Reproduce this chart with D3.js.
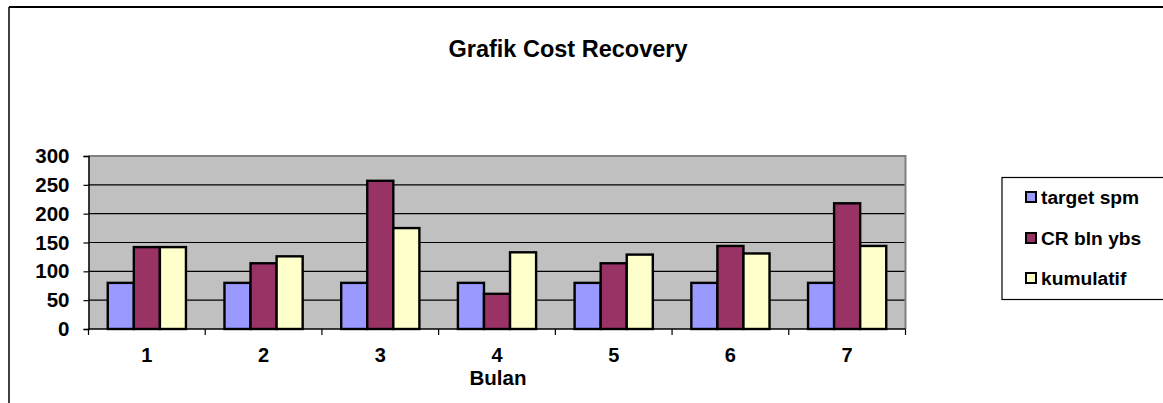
<!DOCTYPE html>
<html>
<head>
<meta charset="utf-8">
<script src="https://cdn.jsdelivr.net/npm/d3@7"></script>
<style>
  html, body { margin: 0; padding: 0; background: #fff; }
  svg { display: block; }
  text { font-family: Arial, "Liberation Sans", sans-serif; font-weight: bold; fill: #000; }
</style>
</head>
<body>
<svg id="chart" width="1163" height="403"></svg>
<script>
const categories = ["1", "2", "3", "4", "5", "6", "7"];
const seriesNames = ["target spm", "CR bln ybs", "kumulatif"];
const targetSpm = [80, 80, 80, 80, 80, 80, 80];
const crBlnYbs = [142, 114, 257, 61, 114, 144, 218];
const kumulatif = [142, 126, 175, 133, 129, 131, 144];
const yTicks = [0, 50, 100, 150, 200, 250, 300];
const colors = ["#9999FF", "#993366", "#FFFFCC"];
const titleText = "Grafik Cost Recovery";
const xTitle = "Bulan";

const seriesValues = [targetSpm, crBlnYbs, kumulatif];
const data = categories.map((c, i) => ({
  cat: c,
  vals: seriesNames.map((s, j) => ({ key: s, value: seriesValues[j][i], color: colors[j] }))
}));

const svg = d3.select("#chart");

// outer chart border (top and left visible)
svg.append("line").attr("x1", 9).attr("x2", 1163).attr("y1", 7).attr("y2", 7)
  .attr("stroke", "#000").attr("stroke-width", 2);
svg.append("line").attr("x1", 9).attr("x2", 9).attr("y1", 7).attr("y2", 403)
  .attr("stroke", "#000").attr("stroke-width", 1.5);

// title
svg.append("text").attr("x", 568).attr("y", 57).attr("text-anchor", "middle")
  .style("font-size", "23.5px").text(titleText);

const plot = { left: 88.5, right: 905.5, top: 156, bottom: 329 };

const x0 = d3.scaleBand().domain(categories).range([plot.left, plot.right]).padding(0);
const x1 = d3.scaleBand().domain(seriesNames)
  .range([x0.bandwidth() * 0.165, x0.bandwidth() * 0.835]).padding(0);
const y = d3.scaleLinear().domain([0, 300]).range([plot.bottom, plot.top]);

// plot background
svg.append("rect").attr("x", plot.left).attr("y", plot.top)
  .attr("width", plot.right - plot.left).attr("height", plot.bottom - plot.top)
  .attr("fill", "#C0C0C0");

// gridlines
svg.append("g").selectAll("line").data(yTicks.filter(t => t > 0 && t < 300)).join("line")
  .attr("x1", plot.left).attr("x2", plot.right)
  .attr("y1", d => y(d)).attr("y2", d => y(d))
  .attr("stroke", "#000").attr("stroke-width", 1.2);

// plot border top/right gray
svg.append("path")
  .attr("d", `M${plot.left},${plot.top}H${plot.right}V${plot.bottom}`)
  .attr("fill", "none").attr("stroke", "#808080").attr("stroke-width", 2);

// bars
const groups = svg.append("g").selectAll("g").data(data).join("g")
  .attr("transform", d => `translate(${x0(d.cat)},0)`);
groups.selectAll("rect").data(d => d.vals).join("rect")
  .attr("x", d => x1(d.key))
  .attr("y", d => y(d.value))
  .attr("width", x1.bandwidth())
  .attr("height", d => y(0) - y(d.value))
  .attr("fill", d => d.color)
  .attr("stroke", "#000").attr("stroke-width", 2.4);

// y axis
const yAxis = svg.append("g").attr("transform", `translate(${plot.left},0)`)
  .call(d3.axisLeft(y).tickValues(yTicks).tickSize(5).tickPadding(14));
yAxis.select(".domain").attr("stroke", "#000").attr("stroke-width", 1.5);
yAxis.selectAll(".tick line").attr("stroke", "#000").attr("stroke-width", 1.2);
yAxis.selectAll("text").style("font-size", "20.5px").style("font-family", "Arial, 'Liberation Sans', sans-serif")
  .style("font-weight", "bold").attr("fill", "#000");

// x axis with ticks at category boundaries
const xAxisG = svg.append("g").attr("transform", `translate(0,${plot.bottom})`);
xAxisG.append("line").attr("x1", plot.left).attr("x2", plot.right)
  .attr("stroke", "#000").attr("stroke-width", 1.5);
const boundaries = categories.map(c => x0(c)).concat([x0(categories[categories.length - 1]) + x0.bandwidth()]);
xAxisG.selectAll("line.tk").data(boundaries).join("line").attr("class", "tk")
  .attr("x1", d => d).attr("x2", d => d).attr("y1", 0).attr("y2", 6)
  .attr("stroke", "#000").attr("stroke-width", 1.2);
xAxisG.selectAll("text").data(categories).join("text")
  .attr("x", d => x0(d) + x0.bandwidth() / 2).attr("y", 33)
  .attr("text-anchor", "middle").style("font-size", "20px").text(d => d);

// x title
svg.append("text").attr("x", 498).attr("y", 385).attr("text-anchor", "middle")
  .style("font-size", "20.5px").text(xTitle);

// legend
const lg = svg.append("g");
lg.append("rect").attr("x", 1002).attr("y", 177.5).attr("width", 200).attr("height", 122)
  .attr("fill", "#fff").attr("stroke", "#000").attr("stroke-width", 1.2);
const legendY = [197, 238, 278];
const items = lg.selectAll("g.item").data(seriesNames).join("g").attr("class", "item")
  .attr("transform", (d, i) => `translate(1026,${legendY[i]})`);
items.append("rect").attr("x", 0).attr("y", -5).attr("width", 10).attr("height", 10)
  .attr("fill", (d, i) => colors[i]).attr("stroke", "#000").attr("stroke-width", 2);
items.append("text").attr("x", 15).attr("y", 7).style("font-size", "19.2px").text(d => d);
</script>
</body>
</html>
